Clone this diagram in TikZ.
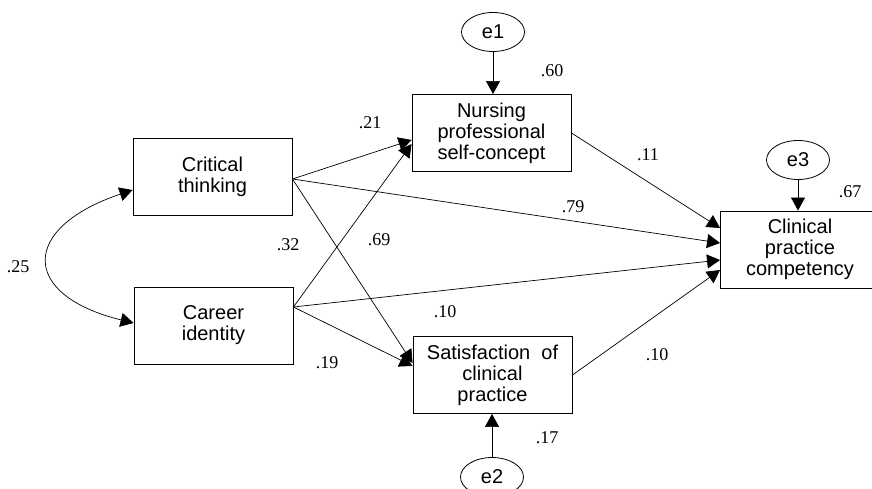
\documentclass[tikz,border=0pt]{standalone}
\usepackage{fontspec}
\setmainfont{Liberation Serif}
\setsansfont{Liberation Sans}
\usepackage{tikz}
\usetikzlibrary{arrows.meta,shapes.geometric}
\tikzset{
var/.style={
  rectangle, draw, line width=0.9pt,
  minimum width=159pt, minimum height=77pt,
  inner sep=0pt, align=center,
  font=\sffamily\fontsize{20}{21}\selectfont
},
err/.style={
  ellipse, draw, line width=0.8pt,
  minimum width=63pt, minimum height=39pt, inner sep=0pt,
  font=\sffamily\fontsize{20}{21}\selectfont
},
path/.style={line width=0.7pt, -{Triangle[length=13pt,width=14pt]}},
coef/.style={font=\fontsize{18}{18}\selectfont, inner sep=0pt},
}

\begin{document}
\begin{tikzpicture}[x=1pt,y=-1pt]
\useasboundingbox (0,0) rectangle (872,489);
% the variables
\node[var] (crit)   at (212.5,176.5) {Critical\\thinking};
\node[var] (career) at (213.5,325.5) {Career\\identity};
\node[var] (nurse)  at (491.5,133)   {Nursing\\professional\\self-concept};
\node[var] (satis)  at (492.5,375)   {Satisfaction\ \ of\\clinical\\practice};
\node[var] (clin)   at (800,249.5)   {Clinical\\practice\\competency};
% the errors
\node[err] (e1) at (493,32)  {e1};
\node[err] (e2) at (492,477) {e2};
\node[err] (e3) at (798,160) {e3};
\draw[path] (e1.south) -- (e1.south |- nurse.north);
\draw[path] (e2.north) -- (e2.north |- satis.south);
\draw[path] (e3.south) -- (e3.south |- clin.north);
% the paths
\coordinate (critout)   at ([yshift=-2.5pt]crit.east);
\coordinate (careerout) at ([yshift=18.5pt]career.east);
\draw[path] (critout)   -- ([yshift=-7pt]nurse.west);
\draw[path] (careerout) -- ([yshift=-11pt]nurse.west);
\draw[path] (critout)   -- ([yshift=12pt]satis.west);
\draw[path] (careerout) -- ([yshift=9pt]satis.west);
\draw[path] (nurse.east) -- ([yshift=21.5pt]clin.west);
\draw[path] (critout)    -- ([yshift=6.5pt]clin.west);
\draw[path] (careerout)  -- ([yshift=-10.5pt]clin.west);
\draw[path] (satis.east) -- ([yshift=-20.5pt]clin.west);
% the covariance
\draw[line width=0.7pt, {Triangle[length=13pt,width=14pt]}-{Triangle[length=13pt,width=14pt]}]
  ([yshift=-13.5pt]crit.west) .. controls (20,228) and (20,295) .. ([yshift=2.5pt]career.west);
% the coefficients
\node[coef] (c25) at (18,267)  {.25};
\node[coef] (c21) at (370,123) {.21};
\node[coef] (c32) at (288,245) {.32};
\node[coef] (c69) at (379,240) {.69};
\node[coef] (c19) at (327,363) {.19};
\node[coef] (c10a) at (445,312) {.10};
\node[coef] (c79) at (573,207) {.79};
\node[coef] (c11) at (648,155) {.11};
\node[coef] (c10b) at (657,355) {.10};
\node[coef] (c60) at (552,71)  {.60};
\node[coef] (c17) at (547,438) {.17};
\node[coef] (c67) at (850,192) {.67};
\end{tikzpicture}
\end{document}
